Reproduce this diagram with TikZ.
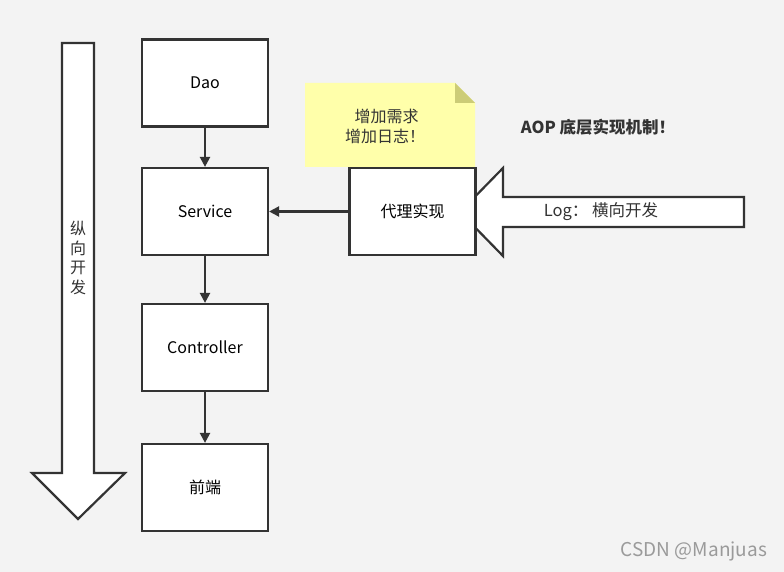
\documentclass[tikz,border=0pt]{standalone}
\usepackage{fontspec}
\setmainfont{Noto Sans CJK SC}
\usetikzlibrary{arrows.meta}
\definecolor{aopbg}{HTML}{F3F3F3}
\definecolor{aopline}{HTML}{333333}
\definecolor{aopnote}{HTML}{FFFFAA}
\definecolor{aopfold}{HTML}{CCCC77}
\definecolor{aopmark}{HTML}{9A9A9A}
\tikzset{
  aop box/.style={
    rectangle,draw=aopline,fill=white,line width=2.2pt,
    minimum width=126pt,minimum height=87pt,inner sep=0pt,
    font=\fontsize{16}{20}\selectfont
  },
  aop edge/.style={draw=aopline,line width=2.2pt,
    -{Triangle[length=10pt,width=10pt]}},
  aop fat/.style={draw=aopline,fill=white,line width=2.2pt,line join=miter},
  aop text/.style={inner sep=0pt,text=aopline,font=\fontsize{16}{20}\selectfont,
    align=center}
}

\begin{document}
\begin{tikzpicture}[x=1pt,y=-1pt]
  \fill[aopbg] (0,0) rectangle (784,572);
  \useasboundingbox (0,0) rectangle (784,572);
  % sticky note
  \fill[aopnote] (305,83)--(455,83)--(475,103)--(475,167)--(305,167)--cycle;
  \fill[aopfold] (455,83)--(475,103)--(455,103)--cycle;
  \node[aop text,align=left] (note) at (385,126) {\hspace*{0.6em}增加需求\\增加日志！};
  % big arrows
  \draw[aop fat] (62,43)--(94,43)--(94,473)--(125,473)--(78,519)
    --(32,473)--(62,473)--cycle;
  \node[aop text,font=\fontsize{16}{19.5}\selectfont] (vert) at (78,258)
    {纵\\向\\开\\发};
  \draw[aop fat] (460,212)--(503,168)--(503,197)--(744,197)--(744,227)
    --(503,227)--(503,256)--cycle;
  \node[aop text,font=\fontsize{16.5}{20}\selectfont] (horiz) at (601,212)
    {Log：\ 横向开发};
  % layers
  \node[aop box] (dao) at (205,83) {Dao};
  \node[aop box] (service) at (205,211.5) {Service};
  \node[aop box] (controller) at (205,347.5) {Controller};
  \node[aop box] (front) at (205,487.5) {前端};
  \node[aop box] (proxy) at (412.5,211.5) {代理实现};
  \draw[aop edge] (dao)--(service);
  \draw[aop edge] (service)--(controller);
  \draw[aop edge] (controller)--(front);
  \draw[aop edge] (proxy)--(service);
  % captions
  \node[aop text,font=\bfseries\fontsize{16.5}{20}\selectfont] (title)
    at (598,127) {AOP 底层实现机制！};
  \node[inner sep=0pt,text=aopmark,font=\fontsize{19}{22}\selectfont]
    (mark) at (694,551) {CSDN @Manjuas};
\end{tikzpicture}
\end{document}
